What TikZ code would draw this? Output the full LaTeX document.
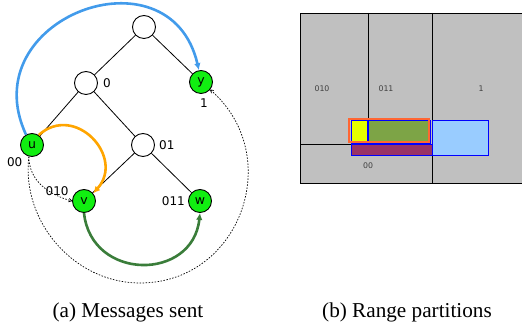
\documentclass[tikz,border=0pt]{standalone}
\usepackage{fontspec}
\setmainfont{Liberation Serif}
\setsansfont{DejaVu Sans}
\usetikzlibrary{arrows.meta}
\definecolor{msgblue}{RGB}{66,155,235}
\definecolor{msgorange}{RGB}{255,165,0}
\definecolor{msggreen}{RGB}{58,125,58}
\definecolor{peergreen}{RGB}{17,238,17}
\definecolor{rangegray}{RGB}{192,192,192}
\definecolor{rangeyellow}{RGB}{230,255,0}
\definecolor{rangegreen}{RGB}{125,164,70}
\definecolor{rangepurple}{RGB}{153,51,102}
\definecolor{rangeblue}{RGB}{153,204,255}
\definecolor{rangeorange}{RGB}{255,102,51}
\tikzset{
  treenode/.style={draw, circle, line width=0.9pt, fill=white, minimum size=23pt, inner sep=0pt, label distance=2.5pt, font=\sffamily\fontsize{12.5}{14}\selectfont},
  peernode/.style={treenode, fill=peergreen},
  treeedge/.style={line width=0.8pt},
  lbl/.style={font=\sffamily\fontsize{12}{14}\selectfont, inner sep=1pt},
  msgarrow/.style={-{Latex[length=7pt,width=6.5pt]}, line width=2.6pt},
  dotarrow/.style={-{To[length=3.5pt,width=4pt]}, line width=0.7pt, dash pattern=on 1.5pt off 1.5pt},
  partline/.style={draw=black, line width=0.8pt},
  cellbox/.style={draw=blue, line width=0.8pt},
  celllbl/.style={font=\sffamily\fontsize{7.8}{9}\selectfont, text=black!75},
  captext/.style={font=\fontsize{21.2}{24}\selectfont}
}
\begin{document}
\begin{tikzpicture}[x=1pt, y=1pt]
  \useasboundingbox (0,0) rectangle (522,326);
  \node[treenode] (root) at (144,299) {};
  \node[treenode, label={[lbl,xshift=4pt]right:0}] (n0) at (86,243) {};
  \node[peernode, label={[lbl,xshift=3pt,yshift=-4pt]below:1}] (y) at (201,244) {y};
  \node[peernode, label={[lbl,yshift=-3pt]below left:00}] (u) at (32,181) {u};
  \node[treenode, label={[lbl,xshift=3pt]right:01}] (n01) at (143,181) {};
  \node[peernode, label={[lbl,xshift=-3pt]160:010}] (v) at (84,125) {v};
  \node[peernode, label={[lbl,xshift=-2pt]left:011}] (w) at (200,125) {w};
  \draw[treeedge] (root) -- (n0);
  \draw[treeedge] (root) -- (y);
  \draw[treeedge] (n0) -- (u);
  \draw[treeedge] (n0) -- (n01);
  \draw[treeedge] (n01) -- (v);
  \draw[treeedge] (n01) -- (w);
  \draw[msgarrow, msgblue] (u.120) to[out=115, in=103, looseness=1.78] (y.100);
  \draw[msgarrow, msgorange] (u.56) to[out=42, in=48, looseness=1.56] (v.40);
  \draw[msgarrow, msggreen] (v.south) to[out=-84, in=-96, looseness=1.52] (w.south);
  \draw[dotarrow] (u.-105) to[out=-90, in=165] (v.west);
  \coordinate (low) at (140,43);
  \draw[dotarrow] (u.-105) to[out=-97, in=180] (low) to[out=0, in=-41, looseness=1.25] (y.-40);

  \draw[partline, fill=rangegray] (300,143) rectangle (523,313);
  \draw[partline] (368,313) -- (368,182);
  \draw[partline] (432,313) -- (432,143);
  \draw[partline] (300,182) -- (432,182);
  \node[celllbl] (r010) at (322,237) {010};
  \node[celllbl] (r011) at (386,237) {011};
  \node[celllbl] (r1) at (481,237) {1};
  \node[celllbl] (r00) at (368,160) {00};
  \draw[cellbox, fill=rangepurple] (351,171) rectangle (432,182);
  \draw[cellbox, fill=rangeblue] (432,171) rectangle (488,206);
  \draw[cellbox, fill=rangeyellow] (351,183) rectangle (367,206);
  \draw[cellbox, fill=rangegreen] (368,183) rectangle (430,206);
  \draw[blue, line width=1.5pt] (367.5,183) -- (367.5,206);
  \draw[rangeorange, line width=1.6pt] (349,184) rectangle (429,207);

  \node[captext] (capa) at (128,14) {(a) Messages sent};
  \node[captext] (capb) at (407,14) {(b) Range partitions};
\end{tikzpicture}
\end{document}
